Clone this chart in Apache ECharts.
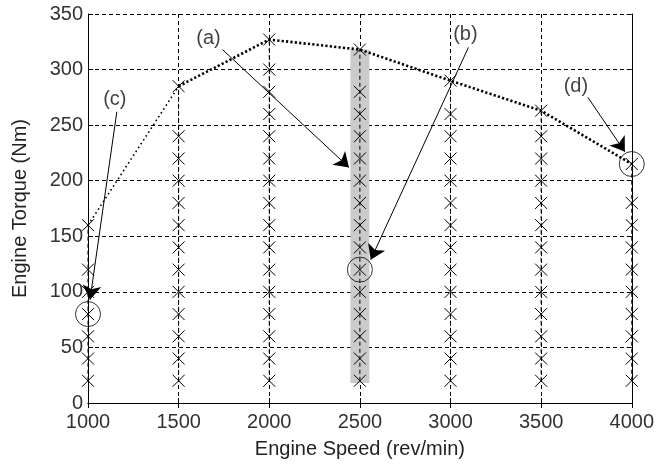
<!DOCTYPE html>
<html>
<head>
<meta charset="utf-8">
<script src="https://cdn.jsdelivr.net/npm/echarts@6/dist/echarts.min.js"></script>
<style>
html,body{margin:0;padding:0;background:#fff;}
#chart{width:657px;height:465px;}
</style>
</head>
<body>
<div id="chart"></div>
<script>
// ---- data ----
const speeds = [1000, 1500, 2000, 2500, 3000, 3500, 4000];
const maxTorque = [160, 285, 327, 318, 290, 263, 215];
const col1000 = [20, 40, 60, 80, 100, 120, 160];
const col1500 = [20, 40, 60, 80, 100, 120, 140, 160, 180, 200, 220, 240, 285];
const col2000 = [20, 40, 60, 80, 100, 120, 140, 160, 180, 200, 220, 240, 260, 280, 300, 327];
const col2500 = [20, 40, 60, 80, 100, 120, 140, 160, 180, 200, 220, 240, 260, 280, 318];
const col3000 = [20, 40, 60, 80, 100, 120, 140, 160, 180, 200, 220, 240, 260, 290];
const col3500 = [20, 40, 60, 80, 100, 120, 140, 160, 180, 200, 220, 240, 263];
const col4000 = [20, 40, 60, 80, 100, 120, 140, 160, 180, 215];
const columns = [col1000, col1500, col2000, col2500, col3000, col3500, col4000];
const circled = [[1000, 80], [2500, 120], [4000, 215]];
const highlightBar = [2500, 18, 318]; // speed, torque from, torque to
const annoLabels = ['(a)', '(b)', '(c)', '(d)'];
const annoLabelPos = [[1665, 328], [3082, 332], [1148, 273], [3692, 285]];
const annoFrom = [[1742, 318], [3099, 320], [1159, 262], [3758, 275]];
const annoTo = [[2440, 212], [2560, 129], [1011, 93], [3962, 226]];
const xTicks = [1000, 1500, 2000, 2500, 3000, 3500, 4000];
const yTicks = [0, 50, 100, 150, 200, 250, 300, 350];

// ---- chart ----
const chart = echarts.init(document.getElementById('chart'), null, {renderer: 'canvas'});
const FONT = 'Liberation Sans, Arial, sans-serif';
const FS = 20;
const gridDash = {color: '#000', width: 1, type: [4, 3]};
const xMark = 'path://M0,0L10,10M0,10L10,0';

const series = [];
// highlighted bar
series.push({
  type: 'custom',
  z: 1,
  silent: true,
  clip: false,
  data: [highlightBar],
  renderItem: function (params, api) {
    const top = api.coord([api.value(0), api.value(2)]);
    const bot = api.coord([api.value(0), api.value(1)]);
    return {type: 'rect', shape: {x: top[0] - 9.5, y: top[1], width: 19, height: bot[1] - top[1]}, style: {fill: '#cbcbcb'}};
  }
});
// operating-point columns
columns.forEach(function (col, i) {
  series.push({
    type: 'line',
    z: 2,
    clip: false,
    silent: true,
    data: col.map(function (t) { return [speeds[i], t]; }),
    symbol: xMark,
    symbolSize: 12,
    showAllSymbol: true,
    itemStyle: {color: 'rgba(0,0,0,0)', borderColor: '#000', borderWidth: 1},
    lineStyle: {color: '#000', width: 1, type: [4, 3]}
  });
});
// max torque curve (first segment lighter)
series.push({
  type: 'line', z: 3, clip: false, silent: true, symbol: 'none',
  data: [[speeds[0], maxTorque[0]], [speeds[1], maxTorque[1]]],
  lineStyle: {color: '#000', width: 1.6, type: [1.6, 3]}
});
series.push({
  type: 'line', z: 3, clip: false, silent: true, symbol: 'none',
  data: speeds.slice(1).map(function (s, i) { return [s, maxTorque[i + 1]]; }),
  lineStyle: {color: '#000', width: 2.6, type: [2.2, 2.2]}
});
// circles
series.push({
  type: 'scatter', z: 4, clip: false, silent: true,
  data: circled,
  symbol: 'circle', symbolSize: 25,
  itemStyle: {color: 'rgba(0,0,0,0)', borderColor: '#000', borderWidth: 1}
});
// annotation labels
series.push({
  type: 'scatter', z: 5, clip: false, silent: true,
  data: annoLabelPos.map(function (p, i) { return {value: p, name: annoLabels[i]}; }),
  symbol: 'circle', symbolSize: 0,
  label: {show: true, position: 'inside', formatter: '{b}', color: '#111', fontFamily: FONT, fontSize: FS}
});
// annotation arrows
series.push({
  type: 'lines',
  coordinateSystem: 'cartesian2d',
  z: 6, silent: true, clip: false,
  polyline: false,
  symbol: ['none', 'arrow'],
  symbolSize: 14,
  lineStyle: {color: '#000', width: 1, type: 'solid', opacity: 1},
  itemStyle: {color: '#000'},
  data: annoFrom.map(function (f, i) { return {coords: [f, annoTo[i]]}; })
});

chart.setOption({
  animation: false,
  backgroundColor: '#fff',
  grid: {left: 88, top: 14, right: 23, bottom: 62, containLabel: false},
  xAxis: [{
    type: 'value', min: xTicks[0], max: xTicks[xTicks.length - 1], interval: 500,
    name: 'Engine Speed (rev/min)', nameLocation: 'middle', nameGap: 36,
    nameTextStyle: {color: '#222', fontFamily: FONT, fontSize: FS},
    axisLine: {lineStyle: {color: '#000', width: 1}},
    axisTick: {inside: true, length: 5, lineStyle: {color: '#000'}},
    axisLabel: {color: '#333', fontFamily: FONT, fontSize: FS, margin: 9, formatter: function (v) { return String(v); }},
    splitLine: {show: true, lineStyle: gridDash}
  }, {
    type: 'value', position: 'top', min: xTicks[0], max: xTicks[xTicks.length - 1], interval: 500,
    axisLine: {show: true, lineStyle: {color: '#000', width: 1}},
    axisTick: {inside: true, length: 5, lineStyle: {color: '#000'}},
    axisLabel: {show: false}, splitLine: {show: false}
  }],
  yAxis: [{
    type: 'value', min: yTicks[0], max: yTicks[yTicks.length - 1], interval: 50,
    name: 'Engine Torque (Nm)', nameLocation: 'middle', nameGap: 58,
    nameTextStyle: {color: '#222', fontFamily: FONT, fontSize: FS},
    axisLine: {show: true, lineStyle: {color: '#000', width: 1}},
    axisTick: {show: true, inside: true, length: 5, lineStyle: {color: '#000'}},
    axisLabel: {color: '#333', fontFamily: FONT, fontSize: FS, margin: 5, formatter: function (v) { return String(v); }},
    splitLine: {show: true, lineStyle: gridDash}
  }, {
    type: 'value', position: 'right', min: yTicks[0], max: yTicks[yTicks.length - 1], interval: 50,
    axisLine: {show: true, lineStyle: {color: '#000', width: 1}},
    axisTick: {show: true, inside: true, length: 5, lineStyle: {color: '#000'}},
    axisLabel: {show: false}, splitLine: {show: false}
  }],
  series: series
});
</script>
</body>
</html>
